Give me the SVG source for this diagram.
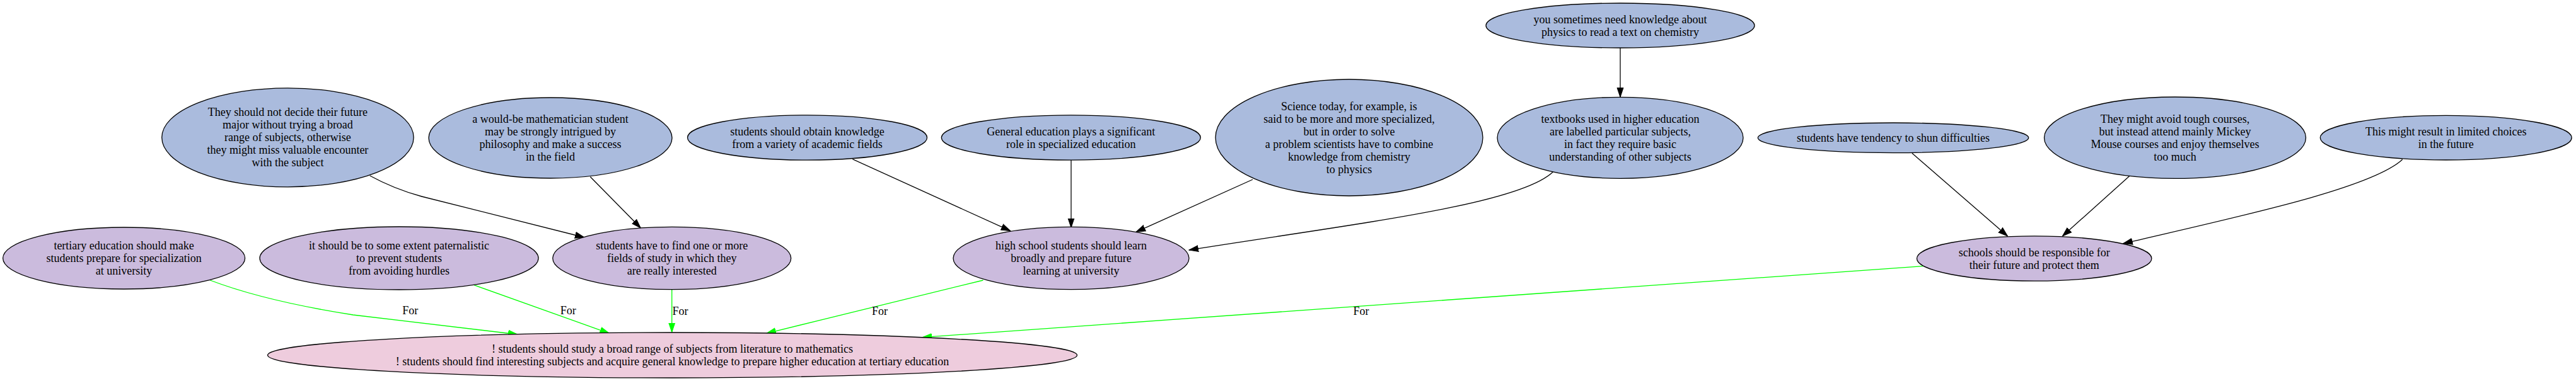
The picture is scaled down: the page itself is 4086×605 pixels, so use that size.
<svg xmlns="http://www.w3.org/2000/svg" width="4086" height="605" viewBox="0 0 4086 605">
<style>
text{font-family:"Liberation Serif","Times New Roman",serif;font-size:18px;text-anchor:middle;fill:#000}
.b{fill:#aabbdd;stroke:#000;stroke-width:1.3}
.p{fill:#cbbbdd;stroke:#000;stroke-width:1.3}
.r{fill:#eeccdd;stroke:#000;stroke-width:1.3}
.e{fill:none;stroke:#000;stroke-width:1.3;marker-end:url(#ab)}
.g{fill:none;stroke:#00ff00;stroke-width:1.3;marker-end:url(#ag)}
</style>
<defs>
<marker id="ab" markerUnits="userSpaceOnUse" markerWidth="16" markerHeight="12" viewBox="0 0 16 12" refX="15" refY="6" orient="auto"><path d="M0,1 L15,6 L0,11 Z" fill="#000" stroke="#000" stroke-width="1"/></marker>
<marker id="ag" markerUnits="userSpaceOnUse" markerWidth="16" markerHeight="12" viewBox="0 0 16 12" refX="15" refY="6" orient="auto"><path d="M0,1 L15,6 L0,11 Z" fill="#00ff00" stroke="#00ff00" stroke-width="1"/></marker>
</defs>
<rect width="4086" height="605" fill="#fff"/>
<g id="connectors">
<path class="e" d="M586.7,279 Q625,300 669,312 L927,377"/>
<path class="e" d="M936.3,280.7 L1016.3,362"/>
<path class="e" d="M1352.3,252.7 L1602.7,366.7"/>
<path class="e" d="M1699,254 L1699,361.5"/>
<path class="e" d="M1987,285 L1802,368.3"/>
<path class="e" d="M2463.5,272.7 C2410,325 2150,355 1886,397"/>
<path class="e" d="M2570,76 L2570,154.3"/>
<path class="e" d="M3032.9,243.3 L3184.5,375"/>
<path class="e" d="M3378,279.3 L3271.4,375"/>
<path class="e" d="M3810.7,253.3 C3760,300 3545,345 3367.7,386.7"/>
<path class="g" d="M333.3,445 Q420,478 560,500 L821,531"/>
<path class="g" d="M752,452.7 L966.4,529.3"/>
<path class="g" d="M1065.7,460 L1065.7,527.7"/>
<path class="g" d="M1559.4,445 L1215.8,529.3"/>
<path class="g" d="M3053.4,422.3 L1462.9,535.7"/>
<text x="650.7" y="499">For</text>
<text x="901.3" y="499">For</text>
<text x="1079" y="500">For</text>
<text x="1395.6" y="500">For</text>
<text x="2158.9" y="500">For</text>
</g>
<g id="n_they_should">
<ellipse class="b" cx="456.4" cy="218.3" rx="199.7" ry="78.5"/>
<text x="456.4" y="184.3">They should not decide their future</text>
<text x="456.4" y="204.3">major without trying a broad</text>
<text x="456.4" y="224.3">range of subjects, otherwise</text>
<text x="456.4" y="244.3">they might miss valuable encounter</text>
<text x="456.4" y="264.3">with the subject</text>
</g>
<g id="n_would_be">
<ellipse class="b" cx="873" cy="219" rx="193" ry="64"/>
<text x="873" y="195">a would-be mathematician student</text>
<text x="873" y="215">may be strongly intrigued by</text>
<text x="873" y="235">philosophy and make a success</text>
<text x="873" y="255">in the field</text>
</g>
<g id="n_obtain">
<ellipse class="b" cx="1280.5" cy="218.5" rx="190" ry="35.7"/>
<text x="1280.5" y="214.5">students should obtain knowledge</text>
<text x="1280.5" y="234.5">from a variety of academic fields</text>
</g>
<g id="n_general">
<ellipse class="b" cx="1698.8" cy="218.5" rx="205.5" ry="35.7"/>
<text x="1698.8" y="214.5">General education plays a significant</text>
<text x="1698.8" y="234.5">role in specialized education</text>
</g>
<g id="n_science">
<ellipse class="b" cx="2140" cy="218.5" rx="212" ry="92.5"/>
<text x="2140" y="174.5">Science today, for example, is</text>
<text x="2140" y="194.5">said to be more and more specialized,</text>
<text x="2140" y="214.5">but in order to solve</text>
<text x="2140" y="234.5">a problem scientists have to combine</text>
<text x="2140" y="254.5">knowledge from chemistry</text>
<text x="2140" y="274.5">to physics</text>
</g>
<g id="n_sometimes">
<ellipse class="b" cx="2570" cy="40.5" rx="213" ry="35.5"/>
<text x="2570" y="36.5">you sometimes need knowledge about</text>
<text x="2570" y="56.5">physics to read a text on chemistry</text>
</g>
<g id="n_textbooks">
<ellipse class="b" cx="2570" cy="218.8" rx="195" ry="64.5"/>
<text x="2570" y="194.8">textbooks used in higher education</text>
<text x="2570" y="214.8">are labelled particular subjects,</text>
<text x="2570" y="234.8">in fact they require basic</text>
<text x="2570" y="254.8">understanding of other subjects</text>
</g>
<g id="n_tendency">
<ellipse class="b" cx="3003" cy="218.8" rx="214.7" ry="23.8"/>
<text x="3003" y="224.8">students have tendency to shun difficulties</text>
</g>
<g id="n_avoid">
<ellipse class="b" cx="3450" cy="218.7" rx="207.5" ry="64.7"/>
<text x="3450" y="194.7">They might avoid tough courses,</text>
<text x="3450" y="214.7">but instead attend mainly Mickey</text>
<text x="3450" y="234.7">Mouse courses and enjoy themselves</text>
<text x="3450" y="254.7">too much</text>
</g>
<g id="n_result">
<ellipse class="b" cx="3879.7" cy="218.7" rx="199.4" ry="35.3"/>
<text x="3879.7" y="214.7">This might result in limited choices</text>
<text x="3879.7" y="234.7">in the future</text>
</g>
<g id="n_tertiary">
<ellipse class="p" cx="196.6" cy="410" rx="192" ry="49"/>
<text x="196.6" y="396">tertiary education should make</text>
<text x="196.6" y="416">students prepare for specialization</text>
<text x="196.6" y="436">at university</text>
</g>
<g id="n_paternalistic">
<ellipse class="p" cx="633" cy="410" rx="221" ry="50"/>
<text x="633" y="396">it should be to some extent paternalistic</text>
<text x="633" y="416">to prevent students</text>
<text x="633" y="436">from avoiding hurdles</text>
</g>
<g id="n_find">
<ellipse class="p" cx="1065.7" cy="410" rx="189" ry="49.7"/>
<text x="1065.7" y="396">students have to find one or more</text>
<text x="1065.7" y="416">fields of study in which they</text>
<text x="1065.7" y="436">are really interested</text>
</g>
<g id="n_highschool">
<ellipse class="p" cx="1699" cy="410" rx="187" ry="49.7"/>
<text x="1699" y="396">high school students should learn</text>
<text x="1699" y="416">broadly and prepare future</text>
<text x="1699" y="436">learning at university</text>
</g>
<g id="n_schools">
<ellipse class="p" cx="3226.7" cy="410.5" rx="186.2" ry="35.7"/>
<text x="3226.7" y="406.5">schools should be responsible for</text>
<text x="3226.7" y="426.5">their future and protect them</text>
</g>
<g id="n_main">
<ellipse class="r" cx="1066.5" cy="564" rx="642" ry="36"/>
<text x="1066.5" y="560">! students should study a broad range of subjects from literature to mathematics</text>
<text x="1066.5" y="580">! students should find interesting subjects and acquire general knowledge to prepare higher education at tertiary education</text>
</g>
</svg>
